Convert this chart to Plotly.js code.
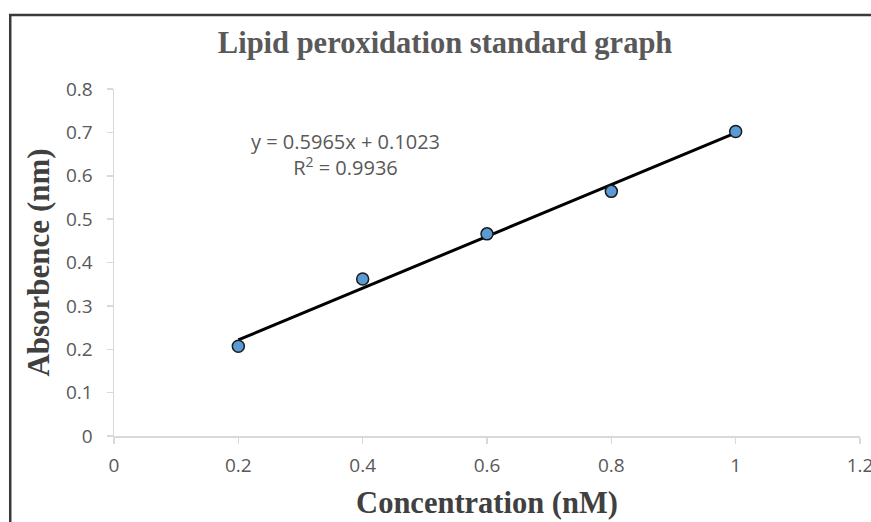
<!DOCTYPE html>
<html><head><meta charset="utf-8">
<script src="https://cdn.plot.ly/plotly-3.0.1.min.js"></script>
<style>html,body{margin:0;padding:0;background:#fff;}#chart{width:871px;height:522px;}</style>
</head><body><div id="chart"></div>
<script>
const concentration = [0.2, 0.4, 0.6, 0.8, 1.0];
const absorbance = [0.207, 0.362, 0.466, 0.564, 0.702];
const trendSlope = 0.5965;
const trendIntercept = 0.1023;
const rSquared = 0.9936;
const xTicks = [0, 0.2, 0.4, 0.6, 0.8, 1, 1.2];
const xTickLabels = ['0', '0.2', '0.4', '0.6', '0.8', '1', '1.2'];
const yTicks = [0, 0.1, 0.2, 0.3, 0.4, 0.5, 0.6, 0.7, 0.8];
const yTickLabels = ['0', '0.1', '0.2', '0.3', '0.4', '0.5', '0.6', '0.7', '0.8'];

const trendX = [concentration[0], concentration[concentration.length - 1]];
const trendY = trendX.map(x => trendSlope * x + trendIntercept);

const grey = '#595959';
const sans = 'Open Sans, sans-serif';
const serif = 'Liberation Serif, Times New Roman, serif';
const tickFont = {family: sans, size: 19, color: grey};

const data = [
  {x: trendX, y: trendY, mode: 'lines', line: {color: '#000', width: 3}, hoverinfo: 'skip', showlegend: false},
  {x: concentration, y: absorbance, mode: 'markers', showlegend: false,
   marker: {size: 12, color: '#5b9bd5', line: {color: '#1a1a1a', width: 1.5}}}
];

const layout = {
  width: 871, height: 522,
  margin: {l: 113.5, r: 10.5, t: 89, b: 85.5},
  paper_bgcolor: '#fff', plot_bgcolor: '#fff',
  title: {text: '<b>Lipid peroxidation standard graph</b>', x: 0.511, xref: 'container', xanchor: 'center', y: 0.919, yref: 'container', yanchor: 'middle',
    font: {family: serif, size: 30.5, color: grey}},
  xaxis: {range: [0, 1.2], tickvals: xTicks, ticktext: xTickLabels, showgrid: false, zeroline: false,
    showline: true, linecolor: '#d9d9d9', linewidth: 1.5, ticks: 'outside', ticklen: 6, tickcolor: '#d9d9d9', tickwidth: 1.5,
    tickfont: tickFont, ticklabeloverflow: 'allow', ticklabelstandoff: 6,
    title: {text: '<b>Concentration (nM)</b>', standoff: 14, font: {family: serif, size: 30.5, color: '#404040'}}},
  yaxis: {range: [0, 0.8], tickvals: yTicks, ticktext: yTickLabels, showgrid: false, zeroline: false,
    showline: true, linecolor: '#d9d9d9', linewidth: 1.5, ticks: 'outside', ticklen: 6, tickcolor: '#d9d9d9', tickwidth: 1.5,
    tickfont: tickFont, ticklabelstandoff: 10,
    title: {text: '<b>Absorbence (nm)</b>', standoff: 7, font: {family: serif, size: 31, color: '#404040'}}},
  annotations: [{x: 0.372, y: 0.648, xref: 'x', yref: 'y', showarrow: false, align: 'center',
    text: 'y = ' + trendSlope + 'x + ' + trendIntercept + '<br>R<sup>2</sup> = ' + rSquared,
    font: {family: sans, size: 20, color: grey}}],
  shapes: [{type: 'rect', xref: 'paper', yref: 'paper', x0: -0.1391, x1: 1.2, y0: -0.5, y1: 1.2129,
    line: {color: '#3a3a3a', width: 2.5}, fillcolor: 'rgba(0,0,0,0)', layer: 'below'}]
};

Plotly.newPlot('chart', data, layout, {displayModeBar: false, staticPlot: true});
</script></body></html>
